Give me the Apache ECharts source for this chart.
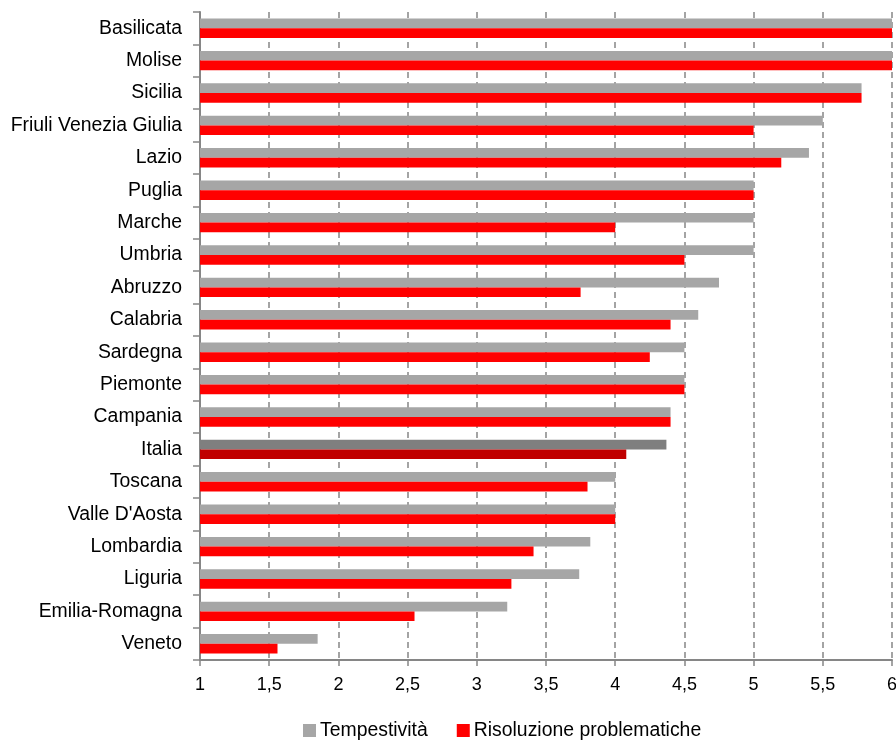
<!DOCTYPE html>
<html>
<head>
<meta charset="utf-8">
<script src="https://cdn.jsdelivr.net/npm/echarts@6/dist/echarts.min.js"></script>
<style>html,body{margin:0;padding:0;background:#fff}#c{width:896px;height:740px}</style>
</head>
<body>
<div id="c"></div>
<script>
const categories = ["Basilicata","Molise","Sicilia","Friuli Venezia Giulia","Lazio","Puglia","Marche","Umbria","Abruzzo","Calabria","Sardegna","Piemonte","Campania","Italia","Toscana","Valle D'Aosta","Lombardia","Liguria","Emilia-Romagna","Veneto"];
const tempestivita = [6, 6, 5.78, 5.5, 5.4, 5.0, 5.0, 5.0, 4.75, 4.6, 4.5, 4.5, 4.4, 4.37, 4.0, 4.0, 3.82, 3.74, 3.22, 1.85];
const risoluzione = [6, 6, 5.78, 5.0, 5.2, 5.0, 4.0, 4.5, 3.75, 4.4, 4.25, 4.5, 4.4, 4.08, 3.8, 4.0, 3.41, 3.25, 2.55, 1.56];
const seriesNames = ["Tempestività", "Risoluzione problematiche"];
const highlightCategory = "Italia";

const chart = echarts.init(document.getElementById('c'), null, {renderer: 'canvas'});
const font = "'Liberation Sans', Arial, sans-serif";

function build(values, hiColor) {
  return values.map((v, i) => categories[i] === highlightCategory
    ? {value: v, itemStyle: {color: hiColor}}
    : v);
}

chart.setOption({
  animation: false,
  backgroundColor: '#ffffff',
  grid: {left: 200, right: 4, top: 12, bottom: 80, containLabel: false, outerBoundsMode: 'none'},
  legend: {
    left: 298, top: 716,
    icon: 'rect', itemWidth: 13, itemHeight: 13, itemGap: 29,
    textStyle: {fontFamily: font, fontSize: 19.4, color: '#000', padding: [0,0,0,-1]},
    data: seriesNames
  },
  xAxis: {
    type: 'value', min: 1, max: 6, interval: 0.5,
    axisLine: {show: true, lineStyle: {color: '#868686', width: 2}},
    axisTick: {show: true, length: 6, lineStyle: {color: '#868686', width: 1.5}},
    axisLabel: {fontFamily: font, fontSize: 18, color: '#000', margin: 16,
      formatter: v => String(v).replace('.', ',')},
    splitLine: {show: true, lineStyle: {color: '#878787', width: 1.5, type: [6, 4]}}
  },
  yAxis: {
    type: 'category', data: categories, inverse: true,
    axisLine: {show: true, lineStyle: {color: '#868686', width: 2}},
    axisTick: {show: true, length: 7, lineStyle: {color: '#868686', width: 1.5}},
    axisLabel: {fontFamily: font, fontSize: 19.4, color: '#000', margin: 18},
    splitLine: {show: false}
  },
  series: [
    {name: seriesNames[0], type: 'bar', data: build(tempestivita, '#7F7F7F'),
     itemStyle: {color: '#A6A6A6'}, barGap: '0%', barCategoryGap: '40%', z: 3},
    {name: seriesNames[1], type: 'bar', data: build(risoluzione, '#C00000'),
     itemStyle: {color: '#FF0000'}, barGap: '0%', barCategoryGap: '40%', z: 3}
  ]
});
</script>
</body>
</html>
